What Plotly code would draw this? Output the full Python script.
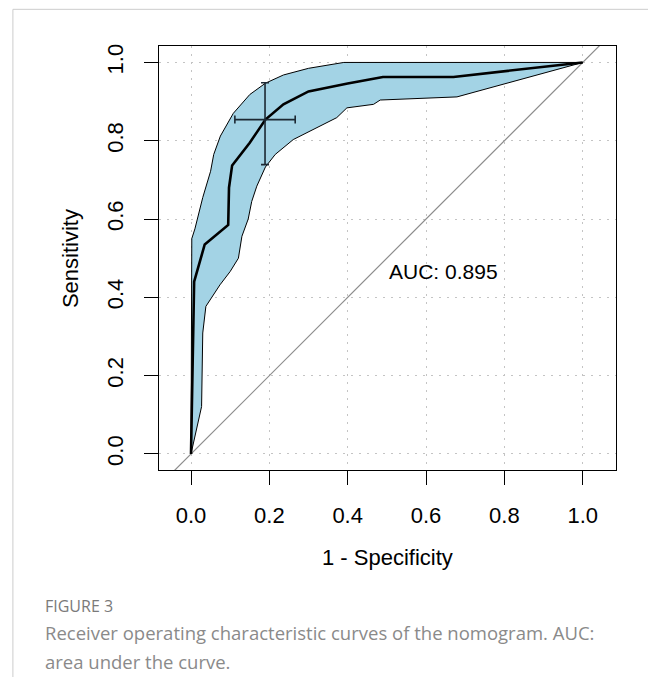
import plotly.graph_objects as go

# ---- data ----
roc_fpr = [0.0, 0.008, 0.035, 0.095, 0.097, 0.105, 0.15, 0.19, 0.236, 0.30, 0.40, 0.49, 0.67, 1.0]
roc_tpr = [0.0, 0.44, 0.535, 0.585, 0.68, 0.737, 0.795, 0.854, 0.893, 0.926, 0.946, 0.963, 0.963, 1.0]

ci_upper_fpr = [0.0, 0.002, 0.010, 0.030, 0.050, 0.058, 0.075, 0.108, 0.150, 0.190, 0.236, 0.300, 0.390, 1.0]
ci_upper_tpr = [0.0, 0.550, 0.575, 0.655, 0.722, 0.765, 0.812, 0.870, 0.918, 0.947, 0.968, 0.985, 1.000, 1.0]

ci_lower_fpr = [0.0, 0.027, 0.030, 0.038, 0.053, 0.074, 0.100, 0.121, 0.130, 0.146, 0.155, 0.168, 0.190,
                0.215, 0.261, 0.312, 0.372, 0.398, 0.466, 0.483, 0.679, 1.0]
ci_lower_tpr = [0.0, 0.121, 0.309, 0.377, 0.398, 0.432, 0.466, 0.500, 0.556, 0.600, 0.645, 0.684, 0.733,
                0.765, 0.803, 0.829, 0.859, 0.884, 0.893, 0.904, 0.912, 1.0]

best_fpr = 0.189
best_tpr = 0.854
best_fpr_lo, best_fpr_hi = 0.112, 0.266
best_tpr_lo, best_tpr_hi = 0.739, 0.948

auc_text = "AUC: 0.895"
tick_vals = [0.0, 0.2, 0.4, 0.6, 0.8, 1.0]
tick_text = ["0.0", "0.2", "0.4", "0.6", "0.8", "1.0"]

# ---- layout geometry (pixels in page coords; page body has an 8px margin) ----
OFF = 8
W, H = 656 - OFF, 685 - 2 * OFF
L, R, T, B = 159 - OFF, 615.7 - OFF, 45.7 - OFF, 470 - OFF
pw, ph = R - L, B - T


def px(x):
    return (x - OFF - L) / pw


def py(y):
    return (B - (y - OFF)) / ph


xr = [-0.0817, 1.085]
yr = [-0.041, 1.042]

fig = go.Figure()

# diagonal reference
fig.add_trace(go.Scatter(x=[-0.1, 1.1], y=[-0.1, 1.1], mode="lines",
                         line=dict(color="#8c8c8c", width=1.2), hoverinfo="skip", showlegend=False))

# confidence band
band_x = ci_upper_fpr + ci_lower_fpr[::-1]
band_y = ci_upper_tpr + ci_lower_tpr[::-1]
fig.add_trace(go.Scatter(x=band_x, y=band_y, mode="lines", fill="toself",
                         fillcolor="#a3d3e5", line=dict(color="black", width=1),
                         showlegend=False, hoverinfo="skip"))

# ROC curve
fig.add_trace(go.Scatter(x=roc_fpr, y=roc_tpr, mode="lines",
                         line=dict(color="black", width=2.6), showlegend=False))

# best threshold with CI cross
fig.add_trace(go.Scatter(
    x=[best_fpr], y=[best_tpr], mode="markers", marker=dict(size=1, color="#1c2833"),
    error_x=dict(type="data", symmetric=False, array=[best_fpr_hi - best_fpr],
                 arrayminus=[best_fpr - best_fpr_lo], color="#1c2833", thickness=1.6, width=4),
    error_y=dict(type="data", symmetric=False, array=[best_tpr_hi - best_tpr],
                 arrayminus=[best_tpr - best_tpr_lo], color="#1c2833", thickness=1.6, width=4),
    showlegend=False))

axis_common = dict(
    tickmode="array", tickvals=tick_vals, ticktext=tick_text,
    ticks="outside", ticklen=14, tickwidth=1.3, tickcolor="black",
    showline=True, linecolor="black", linewidth=1.4, mirror=True,
    showgrid=True, gridcolor="#c4c4c4", gridwidth=1.2, griddash="2px,6px",
    zeroline=False, tickfont=dict(family="Liberation Sans, Arial", size=22, color="black"),
)

fig.update_layout(
    width=W, height=H,
    margin=dict(l=L, r=W - R, t=T, b=H - B, pad=0),
    paper_bgcolor="white", plot_bgcolor="white",
    xaxis=dict(range=xr, ticklabelstandoff=11, **axis_common),
    yaxis=dict(range=yr, tickangle=-90, ticklabelstandoff=12, **axis_common),
    font=dict(family="Liberation Sans, Arial", color="black"),
)

annots = [
    dict(x=0.5, y=0.5, xref="x", yref="y", text=auc_text, showarrow=False,
         xanchor="left", yanchor="top", font=dict(size=21, color="black")),
    dict(x=px(387.4), y=py(558), xref="paper", yref="paper", text="1 - Specificity",
         showarrow=False, xanchor="center", yanchor="middle", font=dict(size=22)),
    dict(x=px(70), y=py(258), xref="paper", yref="paper", text="Sensitivity",
         showarrow=False, textangle=-90, xanchor="center", yanchor="middle", font=dict(size=22)),
    dict(x=px(43), y=py(606), xref="paper", yref="paper", text="FIGURE 3",
         showarrow=False, xanchor="left", yanchor="middle",
         font=dict(family="Open Sans", size=16, color="#7a7a7a")),
    dict(x=px(43), y=py(633), xref="paper", yref="paper",
         text="Receiver operating characteristic curves of the nomogram. AUC:",
         showarrow=False, xanchor="left", yanchor="middle",
         font=dict(family="Open Sans", size=18.5, color="#8a8a8a")),
    dict(x=px(43), y=py(662), xref="paper", yref="paper", text="area under the curve.",
         showarrow=False, xanchor="left", yanchor="middle",
         font=dict(family="Open Sans", size=18.5, color="#8a8a8a")),
]
fig.update_layout(annotations=annots)

fig.add_shape(type="rect", xref="paper", yref="paper",
              x0=px(13), x1=px(652), y0=py(720), y1=py(9),
              line=dict(color="#cccccc", width=1), fillcolor="rgba(0,0,0,0)", layer="below")

fig.write_html("out.html")
